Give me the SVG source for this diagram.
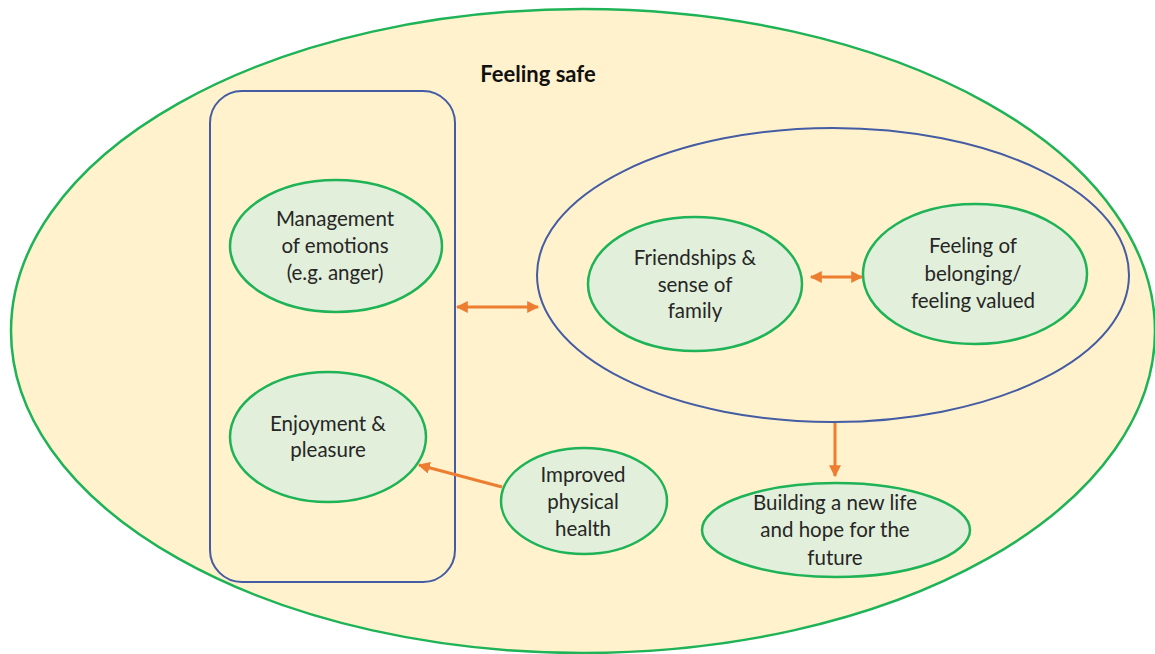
<svg xmlns="http://www.w3.org/2000/svg" width="1155" height="654" viewBox="0 0 1155 654">
  <style>
    .outer { fill: #FFF2CC; stroke: #1DB356; stroke-width: 2.5; }
    .box { fill: none; stroke: #445CA3; stroke-width: 2; }
    .node { fill: #E2EFDA; stroke: #1DB356; stroke-width: 2.5; }
    .lbl { font-family: Lato, "Open Sans", "Liberation Sans", sans-serif; font-size: 20.5px; fill: #262626; text-anchor: middle; }
    .title { font-family: Lato, "Open Sans", "Liberation Sans", sans-serif; font-size: 22px; font-weight: bold; fill: #111111; text-anchor: middle; }
    .link { stroke: #ED7D31; stroke-width: 3; fill: none; }
  </style>
  <defs>
    <marker id="head" viewBox="0 0 10 10" refX="9" refY="5" markerWidth="4" markerHeight="4" orient="auto-start-reverse" markerUnits="strokeWidth">
      <path d="M0,0 L10,5 L0,10 z" fill="#ED7D31"/>
    </marker>
  </defs>

  <!-- outer "Feeling safe" region -->
  <g id="feeling-safe">
    <ellipse class="outer" cx="583" cy="331" rx="572" ry="322"/>
    <text class="title" x="538" y="82">Feeling safe</text>
  </g>

  <!-- left grouping box -->
  <g id="left-group">
    <rect class="box" x="210" y="91" width="245" height="491" rx="32" ry="32"/>
  </g>

  <!-- right grouping ellipse -->
  <g id="right-group">
    <ellipse class="box" cx="833" cy="275" rx="296" ry="147"/>
  </g>

  <g id="management">
    <ellipse class="node" cx="336" cy="246" rx="106" ry="66"/>
    <text class="lbl" x="335" y="226">Management</text>
    <text class="lbl" x="335" y="253">of emotions</text>
    <text class="lbl" x="335" y="280">(e.g. anger)</text>
  </g>

  <g id="enjoyment">
    <ellipse class="node" cx="328" cy="437" rx="98" ry="65"/>
    <text class="lbl" x="328" y="431">Enjoyment &amp;</text>
    <text class="lbl" x="328" y="457">pleasure</text>
  </g>

  <g id="physical-health">
    <ellipse class="node" cx="584" cy="501" rx="83" ry="53"/>
    <text class="lbl" x="583" y="482">Improved</text>
    <text class="lbl" x="583" y="509">physical</text>
    <text class="lbl" x="583" y="536">health</text>
  </g>

  <g id="friendships">
    <ellipse class="node" cx="695" cy="284" rx="107" ry="67"/>
    <text class="lbl" x="695" y="265">Friendships &amp;</text>
    <text class="lbl" x="695" y="292">sense of</text>
    <text class="lbl" x="695" y="318">family</text>
  </g>

  <g id="belonging">
    <ellipse class="node" cx="975" cy="274" rx="112" ry="70"/>
    <text class="lbl" x="973" y="253">Feeling of</text>
    <text class="lbl" x="973" y="281">belonging/</text>
    <text class="lbl" x="973" y="308">feeling valued</text>
  </g>

  <g id="new-life">
    <ellipse class="node" cx="836" cy="530" rx="134" ry="47"/>
    <text class="lbl" x="835" y="510">Building a new life</text>
    <text class="lbl" x="835" y="537">and hope for the</text>
    <text class="lbl" x="835" y="565">future</text>
  </g>

  <!-- connectors -->
  <g id="connectors">
    <line class="link" x1="457" y1="307" x2="538" y2="307" marker-start="url(#head)" marker-end="url(#head)"/>
    <line class="link" x1="811" y1="277" x2="862" y2="277" marker-start="url(#head)" marker-end="url(#head)"/>
    <line class="link" x1="835" y1="423" x2="835" y2="476" marker-end="url(#head)"/>
    <line class="link" x1="502" y1="487" x2="419" y2="465" marker-end="url(#head)"/>
  </g>
</svg>
